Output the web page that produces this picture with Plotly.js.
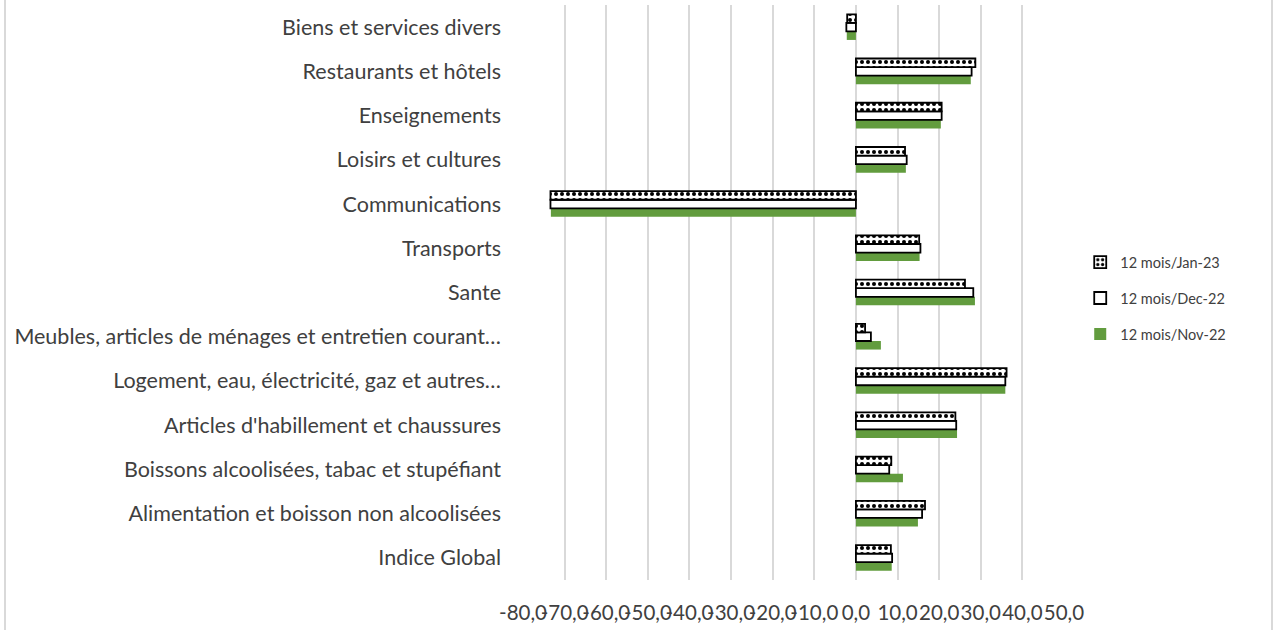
<!DOCTYPE html>
<html>
<head>
<meta charset="utf-8">
<script src="https://cdn.plot.ly/plotly-3.0.1.min.js"></script>
<style>
html,body{margin:0;padding:0;background:#fff;}
#wrap{position:relative;width:1276px;height:630px;overflow:hidden;}
#chart{width:1276px;height:630px;}
.edge{position:absolute;top:0;width:2px;height:630px;background:#d9d9d9;}
</style>
</head>
<body>
<div id="wrap">
<div id="chart"></div>
<div class="edge" style="left:4px"></div>
<div class="edge" style="left:1271px"></div>
</div>
<script>
// Categories, bottom to top as drawn
const categories = [
  "Indice Global",
  "Alimentation et boisson non alcoolisées",
  "Boissons alcoolisées, tabac et stupéfiant",
  "Articles d'habillement et chaussures",
  "Logement, eau, électricité, gaz et autres…",
  "Meubles, articles de ménages et entretien courant…",
  "Sante",
  "Transports",
  "Communications",
  "Loisirs et cultures",
  "Enseignements",
  "Restaurants et hôtels",
  "Biens et services divers"
];
const seriesNames = ["12 mois/Nov-22", "12 mois/Dec-22", "12 mois/Jan-23"];
const nov22 = [8.6, 14.9, 11.3, 24.3, 35.9, 6.0, 28.6, 15.3, -73.3, 12.0, 20.4, 27.6, -2.2];
const dec22 = [8.7, 15.9, 8.0, 24.1, 35.9, 3.6, 28.2, 15.5, -73.4, 12.2, 20.6, 27.8, -2.3];
const jan23 = [8.4, 16.6, 8.5, 23.9, 36.2, 2.2, 26.2, 15.2, -73.4, 11.8, 20.6, 28.7, -2.1];
const tickVals = [-80, -70, -60, -50, -40, -30, -20, -10, 0, 10, 20, 30, 40, 50];
const tickText = ["-80,0", "-70,0", "-60,0", "-50,0", "-40,0", "-30,0", "-20,0", "-10,0", "0,0", "10,0", "20,0", "30,0", "40,0", "50,0"];

const textColor = "#404040";
const font = "Lato, 'Open Sans', sans-serif";

const traces = [
  {
    type: "bar", orientation: "h", name: seriesNames[0], y: categories, x: nov22,
    legendgroup: "a", legendrank: 3,
    marker: {color: "#629c3e", line: {width: 0}}
  },
  {
    type: "bar", orientation: "h", name: seriesNames[1], y: categories, x: dec22,
    legendgroup: "b", legendrank: 2,
    marker: {color: "#ffffff", line: {color: "#000000", width: 1.8}}
  },
  {
    type: "bar", orientation: "h", name: seriesNames[2], y: categories, x: jan23,
    legendgroup: "c", legendrank: 1,
    marker: {color: "#ffffff", line: {color: "#000000", width: 1.8},
      pattern: {shape: ".", fgcolor: "#000000", bgcolor: "#ffffff", size: 6, solidity: 0.35}}
  }
];

const layout = {
  width: 1276, height: 630,
  margin: {l: 523, r: 212, t: 5, b: 50},
  paper_bgcolor: "#ffffff", plot_bgcolor: "#ffffff",
  barmode: "group", bargap: 0.42, bargroupgap: 0,
  font: {family: font, color: textColor, size: 21.5},
  showlegend: true,
  legend: {
    x: 1.03, y: 0.49, xanchor: "left", yanchor: "middle",
    traceorder: "grouped", tracegroupgap: 14,
    font: {family: font, size: 14.5, color: textColor},
    itemwidth: 30, bgcolor: "rgba(0,0,0,0)"
  },
  xaxis: {
    range: [-80, 50], tickmode: "array", tickvals: tickVals, ticktext: tickText,
    tickangle: 0,
    showgrid: true, gridcolor: "#d9d9d9", gridwidth: 2,
    zeroline: true, zerolinecolor: "#d9d9d9", zerolinewidth: 2,
    showline: false, ticks: "", ticklabelstandoff: 18,
    tickfont: {family: font, size: 20.5, color: textColor}
  },
  yaxis: {
    type: "category", range: [-0.5, 12.5],
    showgrid: false, zeroline: false, showline: false, ticks: "",
    ticklabelstandoff: 21,
    tickfont: {family: font, size: 21.5, color: textColor}
  }
};

Plotly.newPlot("chart", traces, layout, {displayModeBar: false, staticPlot: true});
</script>
</body>
</html>
